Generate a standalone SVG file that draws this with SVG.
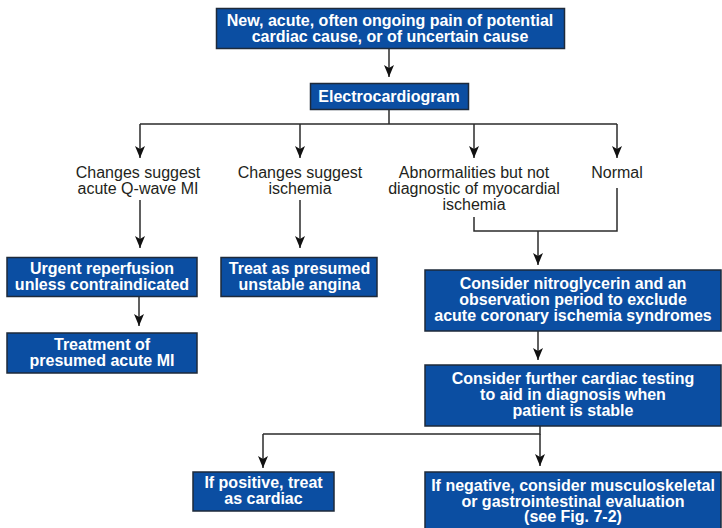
<svg xmlns="http://www.w3.org/2000/svg" width="722" height="528" viewBox="0 0 722 528">
<style>
.box{fill:#0b4ea2;stroke:#1e2a3a;stroke-width:1.5}
.bt{font-family:"Liberation Sans",Arial,sans-serif;font-weight:bold;font-size:16px;fill:#ffffff;text-anchor:middle}
.lt{font-family:"Liberation Sans",Arial,sans-serif;font-size:16px;fill:#231f20;text-anchor:middle}
.ln{fill:none;stroke:#2b2b2b;stroke-width:1.5}
</style>
<defs>
<marker id="ah" viewBox="0 0 12 10" refX="12" refY="5" markerWidth="12" markerHeight="10" markerUnits="userSpaceOnUse" orient="auto">
<path d="M0,0 L12,5 L0,10 L3,5 z" fill="#111"/>
</marker>
</defs>
<rect width="722" height="528" fill="#ffffff"/>
<g id="connectors">
<path class="ln" d="M389,48 V77" marker-end="url(#ah)"/>
<path class="ln" d="M389,109 V124 M140,124 H617"/>
<path class="ln" d="M140,124 V158" marker-end="url(#ah)"/>
<path class="ln" d="M300,124 V158" marker-end="url(#ah)"/>
<path class="ln" d="M474,124 V158" marker-end="url(#ah)"/>
<path class="ln" d="M617,124 V158" marker-end="url(#ah)"/>
<path class="ln" d="M140,200 V248" marker-end="url(#ah)"/>
<path class="ln" d="M300,200 V248" marker-end="url(#ah)"/>
<path class="ln" d="M474,217 V231 H617 V188"/>
<path class="ln" d="M538,231 V265" marker-end="url(#ah)"/>
<path class="ln" d="M139,296 V326" marker-end="url(#ah)"/>
<path class="ln" d="M538,331 V360" marker-end="url(#ah)"/>
<path class="ln" d="M540,426 V434 H263"/>
<path class="ln" d="M263,434 V468" marker-end="url(#ah)"/>
<path class="ln" d="M540,434 V466" marker-end="url(#ah)"/>
</g>
<g id="n-start">
<rect class="box" x="216.5" y="8.5" width="348" height="40"/>
<text class="bt" x="390" y="26">New, acute, often ongoing pain of potential</text>
<text class="bt" x="390" y="41.5">cardiac cause, or of uncertain cause</text>
</g>
<g id="n-ecg">
<rect class="box" x="310.5" y="83.5" width="158" height="26"/>
<text class="bt" x="389" y="101.5">Electrocardiogram</text>
</g>
<g id="l-qwave">
<text class="lt" x="138" y="178">Changes suggest</text>
<text class="lt" x="138" y="194">acute Q-wave MI</text>
</g>
<g id="l-ischemia">
<text class="lt" x="300" y="178">Changes suggest</text>
<text class="lt" x="300" y="194">ischemia</text>
</g>
<g id="l-abn">
<text class="lt" x="474" y="178">Abnormalities but not</text>
<text class="lt" x="474" y="194">diagnostic of myocardial</text>
<text class="lt" x="474" y="210">ischemia</text>
</g>
<g id="l-normal">
<text class="lt" x="617" y="178">Normal</text>
</g>
<g id="n-reperf">
<rect class="box" x="7" y="257.5" width="190" height="39"/>
<text class="bt" x="102" y="273.5">Urgent reperfusion</text>
<text class="bt" x="102" y="289.5">unless contraindicated</text>
</g>
<g id="n-unstable">
<rect class="box" x="221" y="257.5" width="156" height="39"/>
<text class="bt" x="299.5" y="273.5">Treat as presumed</text>
<text class="bt" x="299.5" y="289.5">unstable angina</text>
</g>
<g id="n-acutemi">
<rect class="box" x="7" y="333" width="190" height="40"/>
<text class="bt" x="102" y="350">Treatment of</text>
<text class="bt" x="102" y="366">presumed acute MI</text>
</g>
<g id="n-nitro">
<rect class="box" x="425" y="270" width="296" height="61"/>
<text class="bt" x="573" y="288.5">Consider nitroglycerin and an</text>
<text class="bt" x="573" y="304.5">observation period to exclude</text>
<text class="bt" x="573" y="320.5">acute coronary ischemia syndromes</text>
</g>
<g id="n-testing">
<rect class="box" x="425" y="365" width="296" height="61"/>
<text class="bt" x="573" y="383.5">Consider further cardiac testing</text>
<text class="bt" x="573" y="399.5">to aid in diagnosis when</text>
<text class="bt" x="573" y="415.5">patient is stable</text>
</g>
<g id="n-positive">
<rect class="box" x="193" y="472" width="141" height="39"/>
<text class="bt" x="263.5" y="488">If positive, treat</text>
<text class="bt" x="263.5" y="503.5">as cardiac</text>
</g>
<g id="n-negative">
<rect class="box" x="425" y="472" width="296" height="60"/>
<text class="bt" x="573" y="491">If negative, consider musculoskeletal</text>
<text class="bt" x="573" y="506.5">or gastrointestinal evaluation</text>
<text class="bt" x="573" y="522">(see Fig. 7-2)</text>
</g>
</svg>
